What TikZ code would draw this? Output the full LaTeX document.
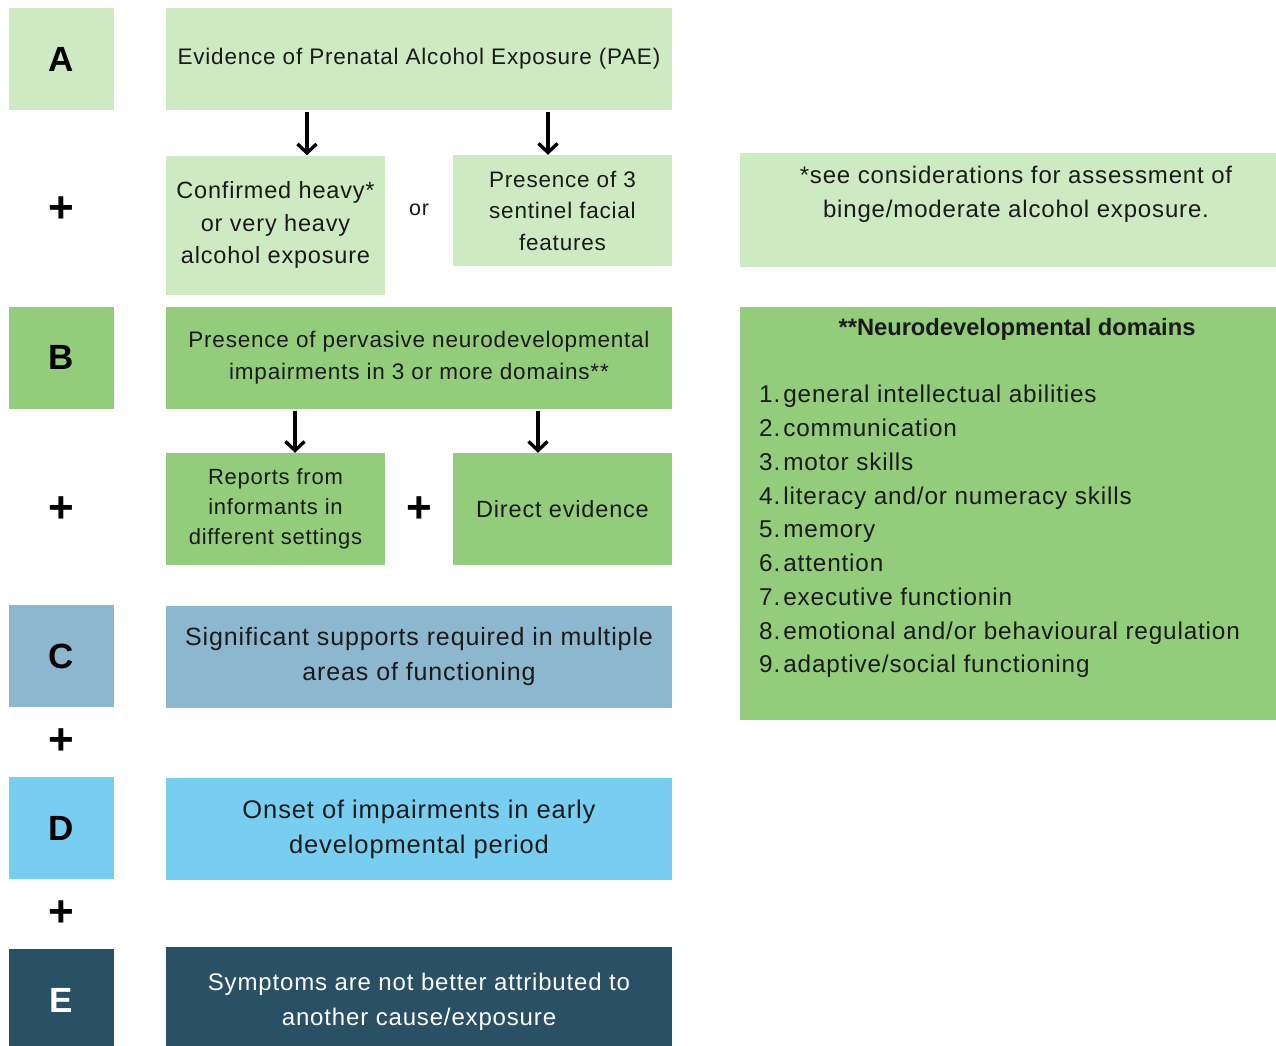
\documentclass[tikz,border=0pt]{standalone}
\usepackage{fontspec}
\setmainfont{Liberation Sans}
\newfontfamily\boxfont[LetterSpace=3.5]{Liberation Sans}
\usetikzlibrary{arrows.meta}
\definecolor{paleg}{HTML}{CEEAC2}
\definecolor{midg}{HTML}{93CD7C}
\definecolor{steel}{HTML}{8DB6CF}
\definecolor{sky}{HTML}{77CEF0}
\definecolor{navy}{HTML}{2A5065}
\definecolor{ink}{HTML}{1A1A1A}
\begin{document}
\begin{tikzpicture}[x=1pt,y=-1pt,
  panel/.style={fill=#1, draw=none, inner sep=0pt, align=center},
  letterbox/.style={panel=#1, minimum width=105pt, minimum height=102pt,
    font=\fontsize{35}{35}\selectfont\bfseries},
  mainbox/.style={panel=#1, minimum width=506pt, minimum height=102pt,
    text=ink},
  subbox/.style={panel=#1, minimum width=219pt, text=ink,
    font=\boxfont\fontsize{22.5}{32.5}\selectfont},
  abtext/.style={font=\boxfont\fontsize{22.5}{32}\selectfont},
  cdetext/.style={font=\boxfont\fontsize{#1}{35}\selectfont},
  plussign/.style={font=\fontsize{44}{44}\selectfont\bfseries, inner sep=0pt},
  arr/.style={line width=3.4pt, -{Straight Barb[length=9pt,width=19pt,line width=3.4pt]},
    shorten <=2pt}]
\clip (0,0) rectangle (1276,1045);
\fill[white] (0,0) rectangle (1276,1045);

% left column: criterion letters
\node[letterbox=paleg, text=black] (la) at (61.5,59) {A};
\node[letterbox=midg, text=black] (lb) at (61.5,357.5) {B};
\node[letterbox=steel, text=black] (lc) at (61.5,656) {C};
\node[letterbox=sky, text=black] (ld) at (61.5,828) {D};
\node[letterbox=navy, text=white] (le) at (61.5,1000) {E};

% plus signs between criteria
\node[plussign] (p1) at (61,210) {+};
\node[plussign] (p2) at (61,510) {+};
\node[plussign] (p3) at (61,742) {+};
\node[plussign] (p4) at (61,914) {+};

% criterion A
\node[mainbox=paleg, abtext] (ma) at (419,59)
  {Evidence of Prenatal Alcohol Exposure (PAE)};
\node[subbox=paleg, minimum height=139pt, font=\boxfont\fontsize{23.5}{32.5}\selectfont] (sa1) at (275.5,225)
  {Confirmed heavy*\\or very heavy\\alcohol exposure};
\node[subbox=paleg, minimum height=111pt, font=\boxfont\fontsize{22.5}{31.5}\selectfont] (sa2) at (562.5,210.5)
  {Presence of 3\\sentinel facial\\features};
\node[font=\boxfont\fontsize{21.5}{21.5}\selectfont, text=ink] (or) at (419,210) {or};
\draw[arr] ([xshift=-112pt]ma.south) -- ([xshift=31.5pt]sa1.north);
\draw[arr] ([xshift=129pt]ma.south) -- ([xshift=-14.5pt]sa2.north);

% criterion B
\node[mainbox=midg, abtext] (mb) at (419,357.5)
  {Presence of pervasive neurodevelopmental\\impairments in 3 or more domains**};
\node[subbox=midg, minimum height=112pt, font=\boxfont\fontsize{22}{30}\selectfont] (sb1) at (275.5,509)
  {Reports from\\informants in\\different settings};
\node[subbox=midg, minimum height=112pt, font=\boxfont\fontsize{23.5}{30}\selectfont] (sb2) at (562.5,509) {Direct evidence};
\node[plussign] (pb) at (419,510) {+};
\draw[arr] ([xshift=-124pt]mb.south) -- ([xshift=19.5pt]sb1.north);
\draw[arr] ([xshift=119pt]mb.south) -- ([xshift=-24.5pt]sb2.north);

% criteria C, D, E
\node[mainbox=steel, cdetext=25] (mc) at (419,657)
  {Significant supports required in multiple\\areas of functioning};
\node[mainbox=sky, cdetext=25.5] (md) at (419,829)
  {Onset of impairments in early\\developmental period};
\node[mainbox=navy, cdetext=24, text=white, minimum height=110pt] (me) at (419,1002)
  {Symptoms are not better attributed to\\another cause/exposure};

% footnote panels
\node[panel=paleg, minimum width=536pt, minimum height=114pt] (note) at (1008,210) {};
\node[text=ink, align=center, font=\boxfont\fontsize{24}{34}\selectfont] (notetext) at (1016,194)
  {*see considerations for assessment of\\binge/moderate alcohol exposure.};
\node[panel=midg, minimum width=536pt, minimum height=413pt] (dom) at (1008,513.5) {};
\node[text=ink, font=\fontsize{23.7}{23.7}\selectfont\bfseries] (domhead) at (1017,329)
  {**Neurodevelopmental domains};
\node[text=ink, anchor=north west, inner sep=0pt, font=\boxfont\fontsize{24.3}{33.75}\selectfont] (domlist) at (759,379)
  {\begin{tabular}{@{}r@{\hspace{3pt}}l@{}}
   1.&general intellectual abilities\\
   2.&communication\\
   3.&motor skills\\
   4.&literacy and/or numeracy skills\\
   5.&memory\\
   6.&attention\\
   7.&executive functionin\\
   8.&emotional and/or behavioural regulation\\
   9.&adaptive/social functioning
   \end{tabular}};
\end{tikzpicture}
\end{document}
